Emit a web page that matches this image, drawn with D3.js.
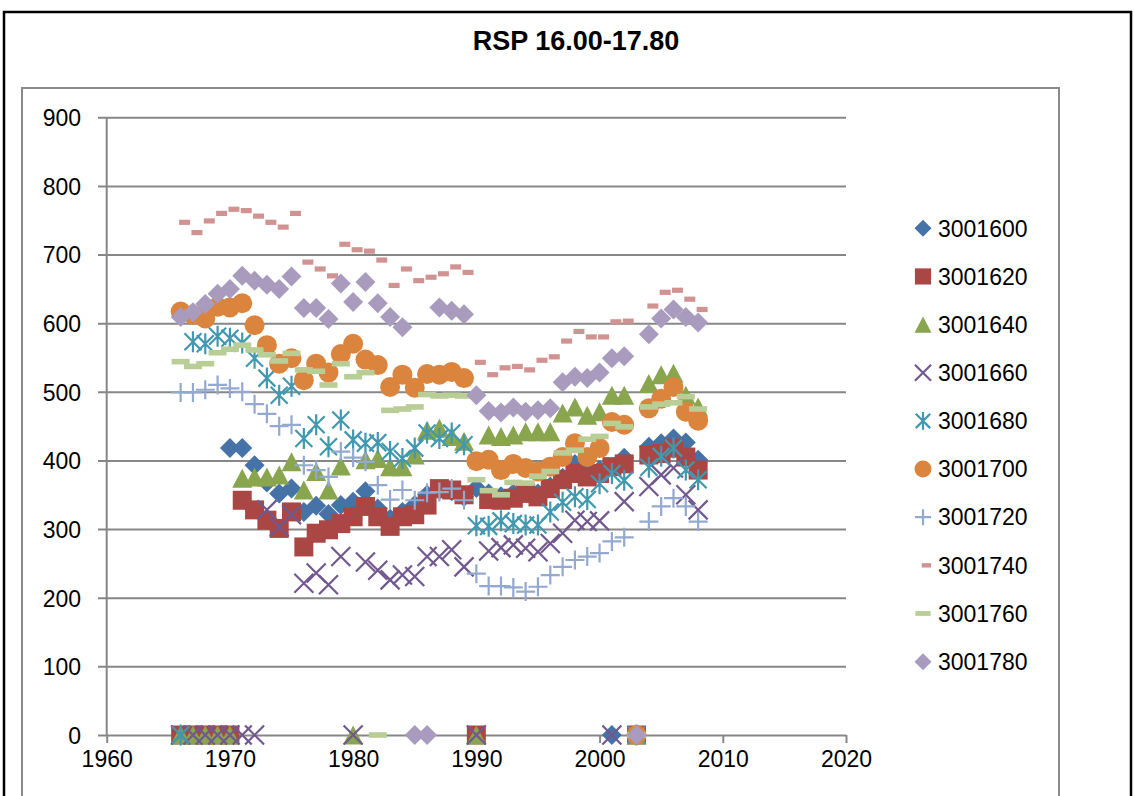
<!DOCTYPE html>
<html>
<head>
<meta charset="utf-8">
<script src="https://cdn.jsdelivr.net/npm/d3@7"></script>
<style>
  body { margin: 0; background: #fff; }
  svg { display: block; }
  text { font-family: "Liberation Sans", Arial, sans-serif; fill: #000; }
</style>
</head>
<body>
<svg id="chart" width="1134" height="796"></svg>
<script>
// ---- data -------------------------------------------------------------
const years = d3.range(1966, 2009);           // 1966 .. 2008
const xTickValues = [1960, 1970, 1980, 1990, 2000, 2010, 2020];
const yTickValues = [0, 100, 200, 300, 400, 500, 600, 700, 800, 900];
const seriesNames = ["3001600", "3001620", "3001640", "3001660", "3001680",
                     "3001700", "3001720", "3001740", "3001760", "3001780"];

const s3001600 = [null, null, null, null, 418, 418, 393, 368, 352, 359, 325, 334, 322, 335, 340, 355, 330, 315, 325, 335, 350, 357, 355, 347, 360, 352, 348, 352, 356, 352, 362, 375, 395, 382, 386, 0, 404, null, 420, 425, 432, 426, 401];
const s3001620 = [0, 0, 0, 0, 0, 342, 328, 313, 301, 325, 274, 294, 299, 308, 318, 333, 318, 304, 318, 321, 335, 359, 357, 350, 0, 343, 342, 345, 352, 347, 359, 372, 381, 376, 381, 391, 395, 0, 408, 410, 418, 405, 386];
const s3001640 = [0, 0, 0, 0, 0, 374, 376, 376, 379, 398, 357, 384, 357, 392, 0, 401, 403, 391, 391, 408, 444, 447, 435, 428, 0, 437, 435, 437, 442, 442, 442, 469, 478, 466, 471, 495, 495, 0, 512, 525, 527, 495, 478];
const s3001660 = [0, 0, 0, 0, 0, 0, 0, 328, 303, 321, 221, 236, 219, 260, 0, 252, 240, 226, 233, 231, 260, 260, 270, 245, 0, 268, 273, 277, 272, 267, 279, 294, 313, 311, 312, 0, 340, null, 362, 379, 389, 350, 328];
const s3001680 = [0, 573, 570, 581, 578, 571, 549, 520, 495, 508, 432, 452, 420, 459, 430, 425, 426, 413, 403, 418, 440, 432, 440, 423, 305, 304, 312, 308, 306, 306, 325, 339, 347, 343, 366, 381, 371, 0, 390, 406, 418, 386, 372];
const s3001700 = [617, 612, 607, 624, 623, 629, 597, 568, 541, 549, 517, 541, 528, 555, 570, 547, 539, 507, 525, 506, 526, 525, 529, 520, 399, 401, 386, 395, 389, 384, 391, 405, 425, 405, 418, 456, 452, 0, 476, 490, 507, 471, 458];
const s3001720 = [499, 499, 503, 510, 505, 500, 482, 468, 450, 452, 393, 386, 376, 413, 404, 398, 364, 343, 357, 342, 353, 354, 359, 342, 235, 217, 217, 215, 209, 216, 233, 245, 255, 260, 265, 282, 288, null, 311, 333, 345, 333, 311];
const s3001740 = [747, 732, 749, 760, 766, 764, 756, 747, 740, 760, 689, 679, 669, 715, 707, 705, 692, 655, 679, 662, 667, 672, 682, 674, 543, 525, 535, 537, 532, 546, 551, 574, 588, 580, 580, 602, 603, 0, 625, 645, 648, 635, 620];
const s3001760 = [544, 537, 541, 557, 562, 568, 561, 554, 545, 556, 532, 530, 510, 541, 522, 528, 0, 473, 475, 478, 496, 494, 495, 494, 372, 356, 350, 368, 367, 377, 384, 411, 415, 431, 435, 454, 449, 0, 478, 482, 484, 493, 475];
const s3001780 = [609, 616, 628, 643, 650, 669, 662, 656, 650, 668, 622, 622, 606, 658, 631, 660, 629, 609, 594, 0, 0, 623, 618, 613, 495, 472, 470, 477, 471, 473, 476, 514, 522, 520, 528, 549, 552, 0, 584, 607, 620, 609, 601];

const seriesValues = [s3001600, s3001620, s3001640, s3001660, s3001680,
                      s3001700, s3001720, s3001740, s3001760, s3001780];
const seriesColors = ["#4572A7", "#AA4643", "#89A54E", "#71588F", "#4198AF",
                      "#DB843D", "#93A9CF", "#D19392", "#B9CD96", "#A99BBD"];
const seriesShapes = ["diamond", "square", "triangle", "cross", "asterisk",
                      "circle", "plus", "shortDash", "longDash", "diamond"];

// ---- marker shapes ----------------------------------------------------
// k scales the marker (1 for the plot, a bit smaller for the legend)
function markerPath(shape, k) {
  const p = d3.path();
  switch (shape) {
    case "diamond": { const r = 10 * k;
      p.moveTo(0, -r); p.lineTo(r, 0); p.lineTo(0, r); p.lineTo(-r, 0); p.closePath(); break; }
    case "square": { const h = 9.5 * k;
      p.rect(-h, -h, 2 * h, 2 * h); break; }
    case "triangle": { const w = 10 * k, h = 9.5 * k;
      p.moveTo(0, -h); p.lineTo(w, h); p.lineTo(-w, h); p.closePath(); break; }
    case "circle": { const r = 10 * k;
      p.arc(0, 0, r, 0, 2 * Math.PI); p.closePath(); break; }
    case "shortDash": { // drawn slightly right of its point
      p.rect(-1.5 * k, -2.6 * k, 11 * k, 5.2 * k); break; }
    case "longDash": {
      p.rect(-9 * k, -2.8 * k, 18 * k, 5.6 * k); break; }
    case "cross": { const r = 9.5 * k;
      p.moveTo(-r, -r); p.lineTo(r, r); p.moveTo(-r, r); p.lineTo(r, -r); break; }
    case "asterisk": { const r = 8.5 * k, v = 10.5 * k;
      p.moveTo(-r, -r); p.lineTo(r, r); p.moveTo(-r, r); p.lineTo(r, -r);
      p.moveTo(0, -v); p.lineTo(0, v); break; }
    case "plus": { const r = 9.5 * k;
      p.moveTo(-r, 0); p.lineTo(r, 0); p.moveTo(0, -r); p.lineTo(0, r); break; }
  }
  return p.toString();
}
const strokedShapes = new Set(["cross", "asterisk", "plus"]);

function styleMarker(sel, shape, color) {
  if (strokedShapes.has(shape)) {
    sel.attr("fill", "none").attr("stroke", color).attr("stroke-width", 2.2);
  } else {
    sel.attr("fill", color).attr("stroke", "none");
  }
}

// ---- layout -----------------------------------------------------------
const svg = d3.select("#chart");
const x = d3.scaleLinear().domain([1960, 2020]).range([106.7, 846]);
const y = d3.scaleLinear().domain([0, 900]).range([735, 117.3]);
const gridColor = "#878787";

// outer chart border and inner chart-area border
svg.append("rect").attr("x", 4).attr("y", 12).attr("width", 1127).attr("height", 800)
  .attr("fill", "#fff").attr("stroke", "#000").attr("stroke-width", 2.5);
svg.append("rect").attr("x", 22).attr("y", 88).attr("width", 1037).attr("height", 740)
  .attr("fill", "#fff").attr("stroke", "#8a8a8a").attr("stroke-width", 2);

// title
svg.append("text").attr("x", 576).attr("y", 50).attr("text-anchor", "middle")
  .style("font-size", "27px").style("font-weight", "bold")
  .text("RSP 16.00-17.80");

// horizontal gridlines (the left stub doubles as the y tick)
const gy = svg.append("g").attr("transform", "translate(98,0)")
  .call(d3.axisLeft(y).tickValues(yTickValues).tickSize(-(846 - 98)).tickFormat(d3.format("d")));
gy.select(".domain").remove();
gy.selectAll(".tick line").attr("stroke", gridColor).attr("stroke-width", 2);
gy.selectAll(".tick text").attr("x", -17).attr("dy", "0.36em")
  .style("font-size", "23px").style("font-family", "'Liberation Sans', Arial, sans-serif").attr("fill", "#000");

// vertical axis line
svg.append("line").attr("x1", x(1960)).attr("x2", x(1960)).attr("y1", y(900)).attr("y2", y(0))
  .attr("stroke", gridColor).attr("stroke-width", 2);

// x axis
const gx = svg.append("g").attr("transform", `translate(0,${y(0)})`)
  .call(d3.axisBottom(x).tickValues(xTickValues).tickSize(8).tickFormat(d3.format("d")));
gx.select(".domain").remove();
gx.selectAll(".tick line").attr("stroke", gridColor).attr("stroke-width", 2);
gx.selectAll(".tick text").attr("y", 24).attr("dy", "0.36em")
  .style("font-size", "23px").style("font-family", "'Liberation Sans', Arial, sans-serif").attr("fill", "#000");

// ---- series markers ----------------------------------------------------
seriesValues.forEach((vals, si) => {
  const pts = years.map((yr, i) => ({ yr, v: vals[i] })).filter(d => d.v !== null);
  const shape = seriesShapes[si];
  const g = svg.append("g").attr("class", "series-" + seriesNames[si]);
  g.selectAll("path").data(pts).join("path")
    .attr("d", markerPath(shape, 1))
    .attr("transform", d => `translate(${x(d.yr)},${y(d.v)})`)
    .call(styleMarker, shape, seriesColors[si]);
});

// ---- legend ------------------------------------------------------------
const legend = svg.append("g").attr("transform", "translate(923,228.3)");
seriesNames.forEach((name, si) => {
  const row = legend.append("g").attr("transform", `translate(0,${si * 48.15})`);
  const shape = seriesShapes[si];
  row.append("path").attr("d", markerPath(shape, 0.85)).call(styleMarker, shape, seriesColors[si]);
  row.append("text").attr("x", 15).attr("dy", "0.36em").style("font-size", "23px").text(name);
});
</script>
</body>
</html>
